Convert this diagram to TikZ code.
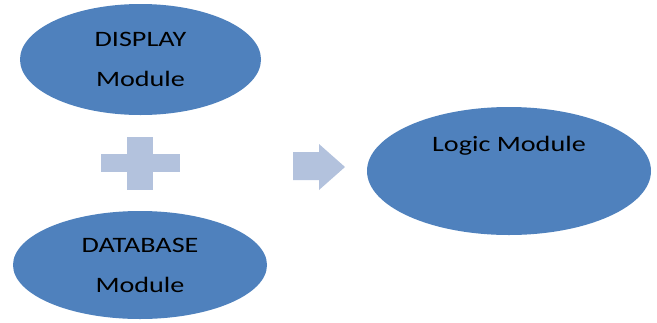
\documentclass[tikz,border=0pt]{standalone}
\usepackage{fontspec}
\usepackage{xcolor}
\setmainfont[FakeStretch=1.28]{Carlito}
\usetikzlibrary{shapes.geometric}

\definecolor{modblue}{HTML}{4F81BD}
\definecolor{signblue}{HTML}{B3C2DD}

\begin{document}
\begin{tikzpicture}[x=1pt,y=-1pt]
\tikzset{module/.style={ellipse,fill=modblue,inner sep=0pt,align=center,
  font=\fontsize{22}{40}\selectfont}}
\tikzset{sign/.style={fill=signblue}}

\useasboundingbox (0,0) rectangle (657,322);

\node[module,minimum width=241pt,minimum height=111pt] (display) at (140.5,59.5) {DISPLAY\\Module};
\node[module,minimum width=254pt,minimum height=108pt] (database) at (140,265) {DATABASE\\Module};
\node[module,minimum width=284pt,minimum height=128pt] (logic) at (509,171) {};
\node[font=\fontsize{22}{26}\selectfont,inner sep=0pt] (logictext) at (509,146) {Logic Module};

% plus sign
\fill[sign] (101,154) rectangle (180,172);
\fill[sign] (127,137) rectangle (153,190);

% arrow
\fill[sign] (293,152) -- (319,152) -- (319,144) -- (345,167) -- (319,190)
  -- (319,180) -- (293,180) -- cycle;

\end{tikzpicture}
\end{document}
